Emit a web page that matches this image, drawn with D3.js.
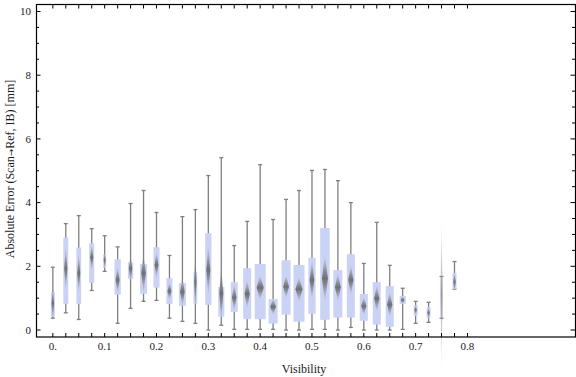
<!DOCTYPE html>
<html>
<head>
<meta charset="utf-8">
<script src="https://cdn.jsdelivr.net/npm/d3@7"></script>
<style>
    body { margin: 0; background: #fff; }
    text { font-family: "Liberation Serif", "DejaVu Serif", serif; fill: #1a1a1a; }
</style>
</head>
<body>
<div id="svgContainer"></div>
<script>
// box data, one entry per visibility bin
var visibility = [0.000, 0.025, 0.050, 0.075, 0.100, 0.125, 0.150, 0.175, 0.200, 0.225, 0.250,
    0.275, 0.300, 0.325, 0.350, 0.375, 0.400, 0.425, 0.450, 0.475, 0.500, 0.525, 0.550,
    0.575, 0.600, 0.625, 0.650, 0.675, 0.700, 0.725, 0.750, 0.775]
var whiskerLow = [0.37, 0.54, 0.33, 1.24, 1.84, 0.21, 0.68, 0.90, 0.93, 0.37, 0.27,
    0.21, 0.00, 0.15, 0.02, 0.02, 0.02, 0.02, 0.00, 0.00, 0.02, 0.02, 0.00,
    0.08, 0.00, 0.00, 0.00, 0.02, 0.21, 0.24, 0.37, 1.28]
var quartile1 = [0.42, 0.82, 0.82, 1.48, 1.95, 1.11, 1.61, 1.14, 1.33, 0.82, 0.76,
    0.82, 0.79, 0.42, 0.57, 0.34, 0.34, 0.20, 0.48, 0.26, 0.51, 0.32, 0.39,
    0.39, 0.29, 0.17, 0.10, 0.82, 0.45, 0.38, 0.37, 1.28]
var median = [0.84, 1.93, 1.78, 2.28, 2.19, 1.57, 1.93, 1.78, 2.04, 1.22, 1.20,
    1.51, 1.88, 1.15, 1.02, 1.13, 1.33, 0.73, 1.36, 1.28, 1.57, 1.62, 1.34,
    1.57, 0.75, 0.99, 0.80, 0.94, 0.63, 0.54, 1.10, 1.51]
var quartile3 = [1.19, 2.90, 2.59, 2.72, 2.38, 2.22, 2.12, 2.07, 2.60, 1.63, 1.47,
    1.82, 3.04, 1.35, 1.50, 1.94, 2.07, 0.97, 2.19, 2.04, 2.26, 3.20, 1.88,
    2.38, 1.13, 1.50, 1.38, 1.07, 0.78, 0.72, 1.68, 1.79]
var whiskerHigh = [1.97, 3.34, 3.59, 3.18, 2.96, 2.61, 3.97, 4.38, 3.69, 2.34, 3.56,
    3.78, 4.85, 5.41, 2.65, 3.41, 5.19, 3.47, 4.10, 4.38, 5.01, 5.04, 4.69,
    4.00, 2.09, 3.38, 2.03, 1.31, 0.90, 0.87, 1.68, 2.15]
// half height of the median diamond (notch), in mm
var notch = [0.55, 0.68, 0.63, 0.42, 0.31, 0.42, 0.44, 0.63, 0.42, 0.29, 0.47,
    0.94, 0.78, 0.89, 0.42, 0.44, 0.39, 0.26, 0.37, 0.39, 0.63, 0.73, 0.44,
    0.47, 0.29, 0.42, 0.39, 0.13, 0.17, 0.19, 2.50, 0.31]
// relative sample weight of each bin (sets the box width)
var weight = [0.36, 0.45, 0.43, 0.45, 0.27, 0.57, 0.48, 0.64, 0.55, 0.55, 0.64,
    0.34, 0.57, 0.55, 0.64, 0.73, 1.00, 0.82, 0.82, 1.00, 0.66, 0.86, 0.82,
    0.73, 0.73, 0.73, 0.73, 0.55, 0.36, 0.36, 0.15, 0.36]
var xTickLabels = ["0.", "0.1", "0.2", "0.3", "0.4", "0.5", "0.6", "0.7", "0.8"]
var xLabelValues = [0, 0.1, 0.2, 0.3, 0.4, 0.5, 0.6, 0.7, 0.8]
var yTickValues = [0, 2, 4, 6, 8, 10]

function drawChart() {
    let width = 576, height = 377;
    var plot = { left: 36, right: 575, top: 4.5, bottom: 337 };

    var boxes = visibility.map((v, i) => ({
        x: v, lo: whiskerLow[i], q1: quartile1[i], med: median[i],
        q3: quartile3[i], hi: whiskerHigh[i], notch: notch[i], w: weight[i]
    }))

    var svg = d3.select("#svgContainer")
        .append("svg")
        .attr("width", width)
        .attr("height", height)
        .attr("viewBox", [0, 0, width, height]);

    var xScale = d3.scaleLinear().domain([-0.0325, 1.0075]).range([plot.left, plot.right]);
    var yScale = d3.scaleLinear().domain([-0.22, 10.22]).range([plot.bottom, plot.top]);
    var wScale = d3.scaleLinear().domain([0, 1]).range([0, 11]);

    // gradient + blur for the fuzzy median diamonds
    var defs = svg.append("defs");
    var grad = defs.append("linearGradient")
        .attr("id", "diamondGrad")
        .attr("x1", 0).attr("y1", 0).attr("x2", 0).attr("y2", 1);
    grad.append("stop").attr("offset", "0%").attr("stop-color", "#8a8a8a").attr("stop-opacity", 0);
    grad.append("stop").attr("offset", "35%").attr("stop-color", "#7a7a7a").attr("stop-opacity", 0.8);
    grad.append("stop").attr("offset", "50%").attr("stop-color", "#6f6f6f").attr("stop-opacity", 1);
    grad.append("stop").attr("offset", "65%").attr("stop-color", "#7a7a7a").attr("stop-opacity", 0.8);
    grad.append("stop").attr("offset", "100%").attr("stop-color", "#8a8a8a").attr("stop-opacity", 0);
    defs.append("filter").attr("id", "soft")
        .attr("x", "-100%").attr("width", "300%")
        .append("feGaussianBlur").attr("stdDeviation", 0.45);

    //whiskers
    var g = svg.append("g");
    g.selectAll(".whisker")
        .data(boxes)
        .enter()
        .append("line")
        .attr("x1", d => xScale(d.x)).attr("x2", d => xScale(d.x))
        .attr("y1", d => yScale(d.lo)).attr("y2", d => yScale(d.hi))
        .style("stroke", "#7f7f7f")
        .style("stroke-width", 1.3);
    ["lo", "hi"].forEach(k => {
        g.selectAll(".cap-" + k)
            .data(boxes)
            .enter()
            .append("line")
            .attr("x1", d => xScale(d.x) - 2).attr("x2", d => xScale(d.x) + 2)
            .attr("y1", d => yScale(d[k])).attr("y2", d => yScale(d[k]))
            .style("stroke", "#7f7f7f")
            .style("stroke-width", 1.3);
    })

    //boxes
    g.selectAll("rect")
        .data(boxes)
        .enter()
        .append("rect")
        .attr("x", d => xScale(d.x) - wScale(d.w) / 2)
        .attr("width", d => wScale(d.w))
        .attr("y", d => yScale(d.q3))
        .attr("height", d => yScale(d.q1) - yScale(d.q3))
        .style("fill", "#cad2f5");

    //median diamonds
    g.selectAll(".diamond")
        .data(boxes)
        .enter()
        .append("path")
        .attr("d", d => {
            var cx = xScale(d.x), hw = Math.max(wScale(d.w) * 0.32, 1);
            var top = yScale(d.med + d.notch), mid = yScale(d.med), bot = yScale(d.med - d.notch);
            return "M" + cx + "," + top + "L" + (cx + hw) + "," + mid + "L" + cx + "," + bot + "L" + (cx - hw) + "," + mid + "Z";
        })
        .style("fill", "url(#diamondGrad)")
        .style("opacity", d => d.notch > 2 ? 0.55 : 1)
        .attr("filter", "url(#soft)");

    //frame
    svg.append("rect")
        .attr("x", plot.left + 0.5).attr("y", plot.top)
        .attr("width", plot.right - plot.left).attr("height", plot.bottom - plot.top)
        .style("fill", "none")
        .style("stroke", "#000")
        .style("stroke-width", 1.2);

    // x ticks at every bin, bottom and top
    var xTicks = svg.append("g");
    visibility.concat([0.8]).forEach(v => {
        xTicks.append("line")
            .attr("x1", xScale(v)).attr("x2", xScale(v))
            .attr("y1", plot.bottom).attr("y2", plot.bottom - 4)
            .style("stroke", "#000");
        xTicks.append("line")
            .attr("x1", xScale(v)).attr("x2", xScale(v))
            .attr("y1", plot.top).attr("y2", plot.top + 4)
            .style("stroke", "#000");
    })
    xLabelValues.forEach((v, i) => {
        xTicks.append("text")
            .attr("x", xScale(v))
            .attr("y", 349.5)
            .attr("text-anchor", "middle")
            .style("font-size", "11px")
            .text(xTickLabels[i]);
    })

    // y ticks, left and right
    var yTicks = svg.append("g");
    d3.range(0, 10.01, 0.5).forEach(v => {
        var len = v % 2 === 0 ? 4.5 : 3;
        yTicks.append("line")
            .attr("x1", plot.left).attr("x2", plot.left + len)
            .attr("y1", yScale(v)).attr("y2", yScale(v))
            .style("stroke", "#000");
        yTicks.append("line")
            .attr("x1", plot.right).attr("x2", plot.right - len)
            .attr("y1", yScale(v)).attr("y2", yScale(v))
            .style("stroke", "#000");
    })
    yTickValues.forEach(v => {
        yTicks.append("text")
            .attr("x", 31)
            .attr("y", yScale(v))
            .attr("dy", "0.35em")
            .attr("text-anchor", "end")
            .style("font-size", "11px")
            .text(v);
    })

    //axis labels
    svg.append("text")
        .attr("x", 304)
        .attr("y", 372.5)
        .attr("text-anchor", "middle")
        .style("font-size", "12px")
        .text("Visibility");
    var ylab = svg.append("text")
        .attr("transform", "rotate(-90)")
        .attr("x", -169)
        .attr("y", 14)
        .attr("text-anchor", "middle")
        .style("font-size", "12px");
    ylab.append("tspan").text("Absolute Error (Scan");
    ylab.append("tspan").style("font-size", "9px").style("font-family", "DejaVu Sans").text("\u2192");
    ylab.append("tspan").text("Ref, IB) [mm]");
}
drawChart();
</script>
</body>
</html>
